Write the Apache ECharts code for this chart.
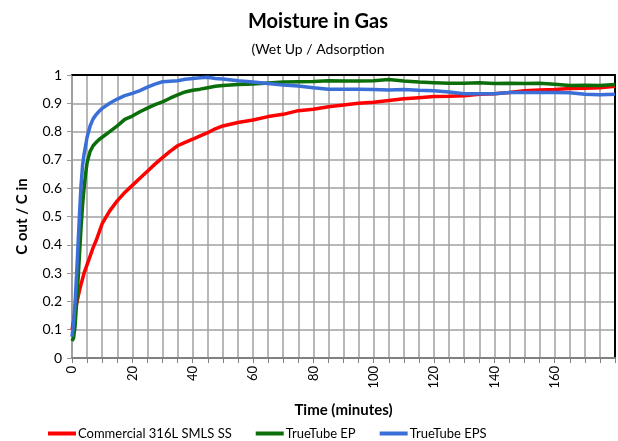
<!DOCTYPE html>
<html>
<head>
<meta charset="utf-8">
<script src="https://cdn.jsdelivr.net/npm/echarts@6/dist/echarts.min.js"></script>
<style>html,body{margin:0;padding:0;background:#fff}#c{width:618px;height:441px}</style>
</head>
<body>
<div id="c"></div>
<script>
const times = [0, 0.5, 1, 1.5, 2, 2.5, 3, 3.5, 4, 4.5, 5, 6, 7, 8, 9, 10, 12.5, 15, 17.5, 20, 22.5, 25, 27.5, 30, 32.5, 35, 37.5, 40, 42.5, 45, 47.5, 50, 55, 60, 65, 70, 75, 80, 85, 90, 95, 100, 105, 110, 115, 120, 125, 130, 135, 140, 145, 150, 155, 160, 165, 170, 175, 180];
const commercial = [0.10, 0.13, 0.165, 0.19, 0.215, 0.24, 0.26, 0.28, 0.30, 0.315, 0.33, 0.36, 0.39, 0.415, 0.445, 0.475, 0.52, 0.555, 0.585, 0.61, 0.635, 0.66, 0.685, 0.708, 0.73, 0.75, 0.762, 0.773, 0.785, 0.796, 0.81, 0.82, 0.832, 0.841, 0.853, 0.861, 0.874, 0.879, 0.888, 0.894, 0.9, 0.904, 0.91, 0.916, 0.92, 0.924, 0.925, 0.927, 0.932, 0.934, 0.938, 0.944, 0.947, 0.949, 0.952, 0.953, 0.955, 0.96];
const trueTubeEP = [0.06, 0.07, 0.11, 0.19, 0.275, 0.37, 0.46, 0.54, 0.60, 0.65, 0.69, 0.73, 0.75, 0.762, 0.772, 0.78, 0.80, 0.82, 0.843, 0.855, 0.87, 0.883, 0.895, 0.905, 0.918, 0.93, 0.94, 0.946, 0.95, 0.955, 0.96, 0.963, 0.966, 0.968, 0.972, 0.975, 0.976, 0.977, 0.98, 0.979, 0.979, 0.98, 0.984, 0.979, 0.975, 0.973, 0.971, 0.971, 0.973, 0.97, 0.971, 0.97, 0.971, 0.967, 0.963, 0.964, 0.963, 0.966];
const trueTubeEPS = [0.075, 0.12, 0.19, 0.29, 0.40, 0.51, 0.61, 0.68, 0.72, 0.75, 0.78, 0.82, 0.845, 0.86, 0.872, 0.882, 0.9, 0.915, 0.927, 0.935, 0.945, 0.957, 0.968, 0.976, 0.978, 0.98, 0.985, 0.988, 0.99, 0.992, 0.988, 0.986, 0.98, 0.975, 0.97, 0.965, 0.961, 0.955, 0.95, 0.95, 0.95, 0.949, 0.947, 0.949, 0.946, 0.944, 0.94, 0.934, 0.934, 0.934, 0.938, 0.938, 0.938, 0.938, 0.937, 0.932, 0.93, 0.932];
const seriesNames = ['Commercial 316L SMLS SS', 'TrueTube EP', 'TrueTube EPS'];
const seriesColors = ['#ff0000', '#0b6e0b', '#3a6fd8'];
const seriesValues = [commercial, trueTubeEP, trueTubeEPS];

const font = 'Lato, "Liberation Sans", sans-serif';
const chart = echarts.init(document.getElementById('c'), null, {renderer: 'canvas'});
chart.setOption({
  animation: false,
  backgroundColor: '#fff',
  title: [
    {text: 'Moisture in Gas', left: 313, textAlign: 'center', top: 7,
     textStyle: {fontFamily: font, fontSize: 20, fontWeight: 'bold', color: '#000'}},
    {text: '(Wet Up / Adsorption', left: 313, textAlign: 'center', top: 37,
     textStyle: {fontFamily: font, fontSize: 14, fontWeight: 'normal', color: '#000'}}
  ],
  legend: {
    left: 48, top: 427, padding: 0, itemWidth: 28, itemHeight: 4, itemGap: 24, icon: 'rect',
    textStyle: {fontFamily: font, fontSize: 13, color: '#000', padding: [0, 0, 0, -3]},
    data: seriesNames
  },
  grid: {left: 72, right: 3, top: 75, bottom: 83, containLabel: false},
  xAxis: [{
    type: 'value', min: 0, max: 180, interval: 5,
    name: 'Time (minutes)', nameLocation: 'middle', nameGap: 45,
    nameTextStyle: {fontFamily: font, fontSize: 15, fontWeight: 'bold', color: '#000'},
    axisLine: {show: true, lineStyle: {color: '#808080', width: 2}},
    axisTick: {show: true, inside: false, length: 5, lineStyle: {color: '#808080'}},
    axisLabel: {rotate: 90, margin: 8, fontFamily: font, fontSize: 13, color: '#000',
      formatter: v => (v % 20 === 0 && v < 180) ? String(v) : ''},
    splitLine: {show: true, lineStyle: {color: '#a0a0a0', width: 1.5}}
  }, {
    type: 'value', position: 'top', min: 0, max: 180,
    axisLine: {show: true, onZero: false, lineStyle: {color: '#000', width: 2}},
    axisTick: {show: false}, axisLabel: {show: false}, splitLine: {show: false}
  }],
  yAxis: [{
    type: 'value', min: 0, max: 1, interval: 0.1,
    name: 'C out / C in', nameLocation: 'middle', nameGap: 42,
    nameTextStyle: {fontFamily: font, fontSize: 15, fontWeight: 'bold', color: '#000'},
    axisLine: {show: true, lineStyle: {color: '#999', width: 1.5}},
    axisTick: {show: true, inside: false, length: 5, lineStyle: {color: '#999'}},
    axisLabel: {margin: 10, fontFamily: font, fontSize: 14, color: '#000',
      formatter: v => String(Math.round(v * 10) / 10)},
    splitLine: {show: true, lineStyle: {color: '#a0a0a0', width: 1.5}}
  }, {
    type: 'value', position: 'right', min: 0, max: 1,
    axisLine: {show: true, onZero: false, lineStyle: {color: '#000', width: 2}},
    axisTick: {show: false}, axisLabel: {show: false}, splitLine: {show: false}
  }],
  series: seriesNames.map((name, i) => ({
    name: name, type: 'line', xAxisIndex: 0, yAxisIndex: 0,
    showSymbol: false, symbol: 'none', smooth: false,
    color: seriesColors[i],
    lineStyle: {width: 3.5, color: seriesColors[i]},
    data: times.map((t, k) => [t, seriesValues[i][k]])
  }))
});
</script>
</body>
</html>
